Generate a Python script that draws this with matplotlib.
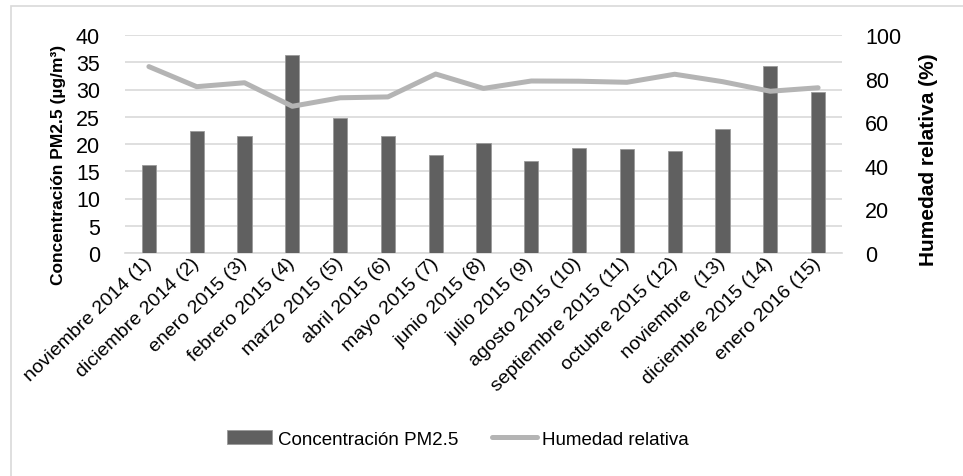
import matplotlib.pyplot as plt
from matplotlib.patches import Rectangle

plt.rcParams['font.family'] = ['Liberation Sans', 'DejaVu Sans']

meses = ['noviembre 2014 (1)', 'diciembre 2014 (2)', 'enero 2015 (3)', 'febrero 2015 (4)',
         'marzo 2015 (5)', 'abril 2015 (6)', 'mayo 2015 (7)', 'junio 2015 (8)',
         'julio 2015 (9)', 'agosto 2015 (10)', 'septiembre 2015 (11)', 'octubre 2015 (12)',
         'noviembre  (13)', 'diciembre 2015 (14)', 'enero 2016 (15)']
pm25 = [16.1, 22.4, 21.4, 36.4, 24.8, 21.5, 18.0, 20.2, 16.9, 19.2, 19.0, 18.7, 22.7, 34.4, 29.5]
humedad = [85.5, 76.3, 78.1, 67.3, 71.2, 71.6, 82.1, 75.5, 78.9, 78.8, 78.3, 82.0, 78.6, 74.2, 75.8]

fig = plt.figure(figsize=(9.63, 4.77), dpi=100)
# marco del grafico (solo se ven borde izquierdo y superior)
fig.patches.append(Rectangle((11 / 963, -0.1), 1.2, 1 - 7 / 477 + 0.1, transform=fig.transFigure,
                             fill=False, edgecolor='#d9d9d9', linewidth=1.2))

ax = fig.add_axes([125 / 963, 1 - 254 / 477, 717 / 963, 218 / 477])
x = range(len(meses))

ax.bar(x, pm25, width=0.3, color='#606060', edgecolor='#9a9a9a', linewidth=0.6, zorder=3,
       label='Concentración PM2.5')
ax.set_ylim(0, 40)
ax.set_xlim(-0.5, len(meses) - 0.5)
ax.set_yticks(range(0, 41, 5))
ax.grid(axis='y', color='#d9d9d9', linewidth=1.2, zorder=0)
for s in ['top', 'right', 'left']:
    ax.spines[s].set_visible(False)
ax.spines['bottom'].set_color('#d9d9d9')
ax.spines['bottom'].set_linewidth(1.2)
ax.tick_params(axis='y', length=0, pad=18, labelsize=15.5)
ax.tick_params(axis='x', length=0, pad=5)
ax.set_xticks(list(x))
ax.set_xticklabels(meses, rotation=44, ha='right', va='center', rotation_mode='anchor', fontsize=14)

ax2 = ax.twinx()
ax2.plot(x, humedad, color='#b4b4b4', linewidth=3.6, solid_capstyle='round', zorder=4,
         label='Humedad relativa')
ax2.set_ylim(0, 100)
ax2.set_yticks(range(0, 101, 20))
for s in ['top', 'right', 'left', 'bottom']:
    ax2.spines[s].set_visible(False)
ax2.tick_params(axis='y', length=0, pad=16.5, labelsize=15.5)

fig.text(58 / 963, 1 - 165 / 477, 'Concentración PM2.5 (µg/m³)', rotation=90, ha='center', va='center',
         fontsize=12.5, fontweight='bold')
fig.text(928 / 963, 1 - 160 / 477, 'Humedad relativa (%)', rotation=90, ha='center', va='center',
         fontsize=15, fontweight='bold')

h1, l1 = ax.get_legend_handles_labels()
h2, l2 = ax2.get_legend_handles_labels()
fig.legend(h1 + h2, l1 + l2, loc='center', bbox_to_anchor=(458 / 963, 1 - 440 / 477), ncol=2,
           frameon=False, fontsize=13.5, handlelength=2.4, handletextpad=0.3, columnspacing=1.8)

fig.savefig('out.png', dpi=100)
